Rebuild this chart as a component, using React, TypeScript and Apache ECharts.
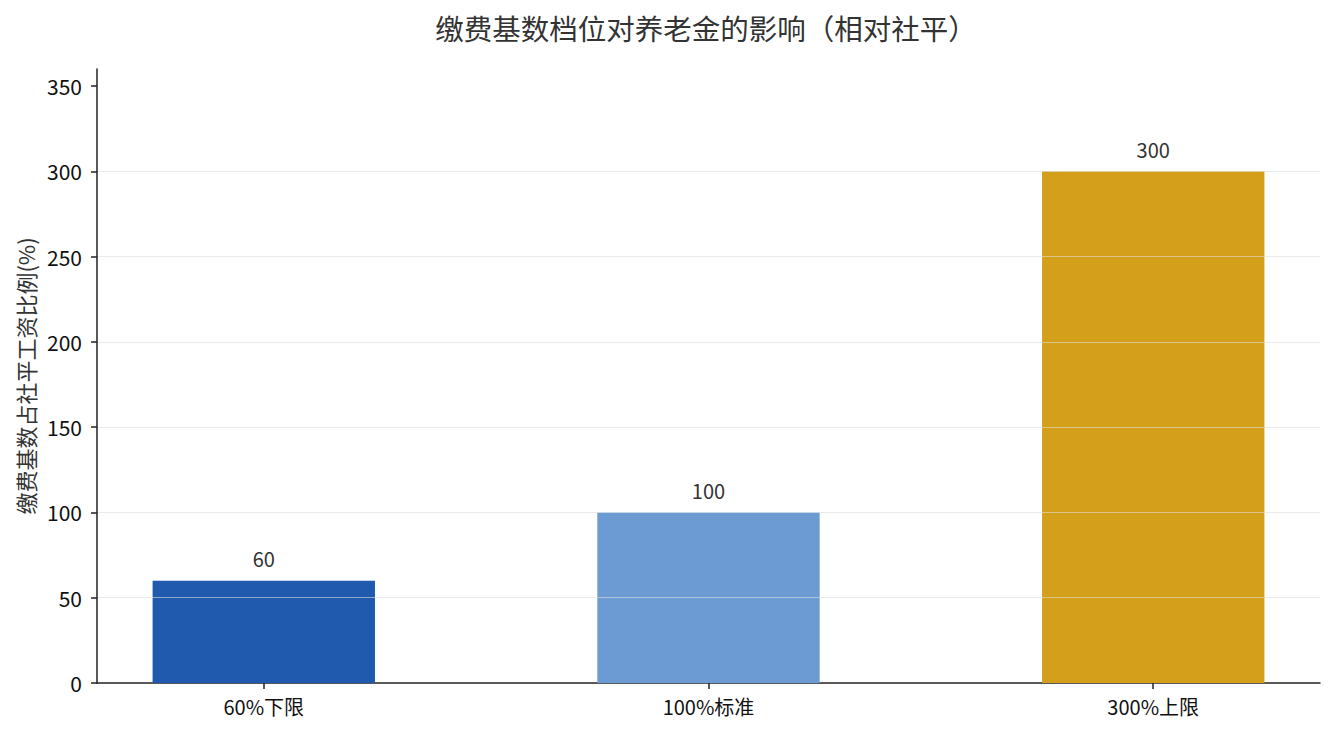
import * as echarts from 'echarts';
import React, { useEffect, useRef } from 'react';

const categories = ['60%下限', '100%标准', '300%上限'];
const values = [60, 100, 300];
const barColors = ['#1f5aae', '#6b9bd2', '#d4a01b'];
const yTicks = [0, 50, 100, 150, 200, 250, 300, 350];

const FONT = '"Noto Sans CJK SC", "Noto Sans", sans-serif';

const App: React.FC = () => {
  const chartRef = useRef<HTMLDivElement>(null);

  useEffect(() => {
    if (!chartRef.current) return;
    const chart = echarts.init(chartRef.current, undefined, { renderer: 'svg' });

    const gridLeft = 97;
    const gridRight = 14;
    const plotWidth = 1334 - gridLeft - gridRight;
    // x 轴范围 -0.375 ~ 2.375，柱宽 0.5 个单位
    const barWidth = (plotWidth * 0.5) / 2.75;

    const option: echarts.EChartsOption = {
      animation: false,
      textStyle: { fontFamily: FONT },
      title: {
        text: '缴费基数档位对养老金的影响（相对社平）',
        left: 701,
        top: 8,
        textAlign: 'center',
        textStyle: { color: '#333', fontSize: 28.5, fontWeight: 'normal', fontFamily: FONT },
      },
      grid: { left: gridLeft, right: gridRight, top: 69, bottom: 52 },
      xAxis: {
        type: 'value',
        min: -0.375,
        max: 2.375,
        splitLine: { show: false },
        axisLine: { show: true, onZero: false, lineStyle: { color: '#222', width: 1.5 } },
        axisTick: { show: true, length: 6, customValues: [0, 1, 2], lineStyle: { color: '#222', width: 1.5 } },
        axisLabel: {
          customValues: [0, 1, 2],
          formatter: (v: number) => categories[Math.round(v)] ?? '',
          color: '#111',
          fontSize: 20,
          margin: 13,
          fontFamily: FONT,
        },
      },
      yAxis: {
        type: 'value',
        min: 0,
        max: 360,
        z: 10,
        name: '缴费基数占社平工资比例(%)',
        nameLocation: 'middle',
        nameGap: 61,
        nameTextStyle: { color: '#333', fontSize: 22, fontFamily: FONT },
        axisLine: { show: true, onZero: false, lineStyle: { color: '#222', width: 1.5 } },
        axisTick: { show: true, length: 6, customValues: yTicks, lineStyle: { color: '#222', width: 1.5 } },
        axisLabel: { customValues: yTicks, color: '#111', fontSize: 21, margin: 15, fontFamily: FONT },
        splitLine: {
          show: true,
          showMinLine: false,
          showMaxLine: false,
          lineStyle: { color: 'rgba(220,220,220,0.6)', width: 1 },
        },
      },
      series: [
        {
          type: 'bar',
          barWidth,
          data: values.map((v, i) => ({
            value: [i, v],
            itemStyle: { color: barColors[i] },
          })),
          label: {
            show: true,
            position: 'top',
            distance: 12,
            color: '#333',
            fontSize: 20,
            fontFamily: FONT,
            formatter: (p: any) => String(p.value[1]),
          },
        },
      ],
    };

    chart.setOption(option);
    return () => chart.dispose();
  }, []);

  return (
    <div
      ref={chartRef}
      style={{ position: 'absolute', left: 0, top: 0, width: '1334px', height: '735px', background: '#fff' }}
    />
  );
};

export default App;
